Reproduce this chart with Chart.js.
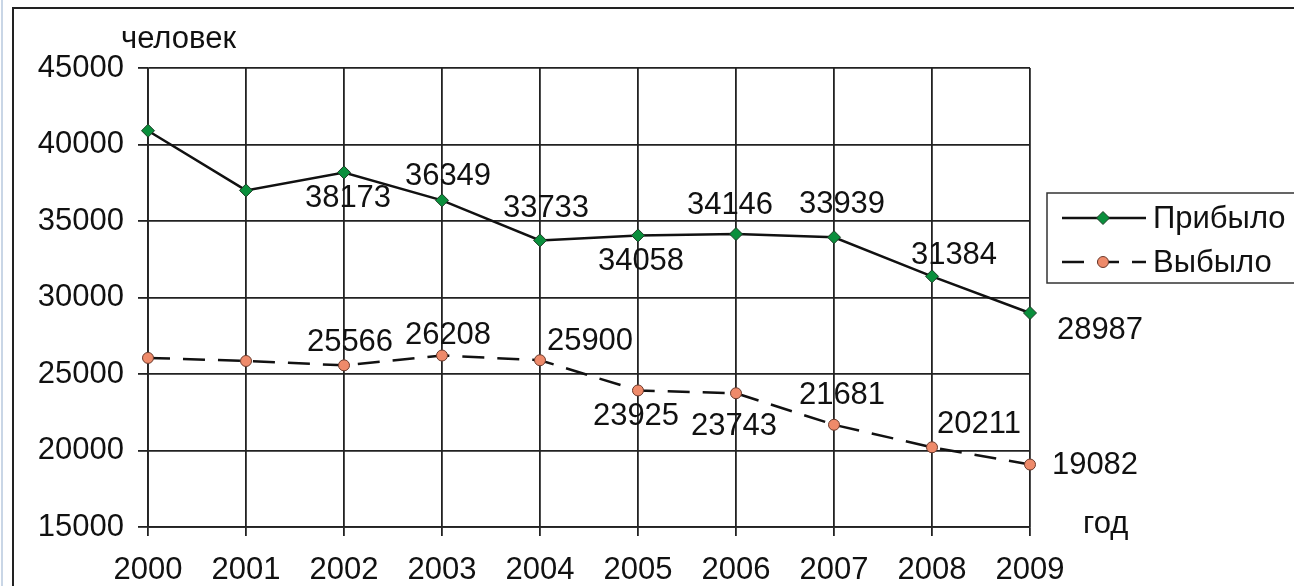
<!DOCTYPE html>
<html lang="ru">
<head>
<meta charset="UTF-8">
<title>Прибыло / Выбыло</title>
<script src="https://cdn.jsdelivr.net/npm/chart.js"></script>
<style>
  * { margin: 0; padding: 0; box-sizing: border-box; }
  body { width: 1294px; height: 586px; background: #fff; overflow: hidden; position: relative; }
  .edge { position: absolute; left: 1px; top: 0; width: 2px; height: 586px; background: #c9d6e6; }
  .frame { position: absolute; left: 12px; top: 7px; width: 1300px; height: 600px; border: 2px solid #222; }
  #wrap { position: absolute; left: 0; top: 0; width: 1294px; height: 586px; }
</style>
</head>
<body>
<div class="edge"></div>
<div class="frame"></div>
<div id="wrap"><canvas id="chart" width="1294" height="586"></canvas></div>
<script>
// data
const years = ['2000', '2001', '2002', '2003', '2004', '2005', '2006', '2007', '2008', '2009'];
const arrived = [40900, 37000, 38173, 36349, 33733, 34058, 34146, 33939, 31384, 28987];
const departed = [26050, 25850, 25566, 26208, 25900, 23925, 23743, 21681, 20211, 19082];
const yTicks = [15000, 20000, 25000, 30000, 35000, 40000, 45000];

// where each value label sits relative to its point (null = no label)
const arrivedLabelShift = [null, null, [4, 26], [6, -24], [6, -32], [3, 26], [-6, -29], [8, -33], [22, -21], [70, 17]];
const departedLabelShift = [null, null, [6, -23], [6, -20], [50, -19], [-2, 26], [-2, 33], [8, -29], [47, -23], [65, 1]];

const FONT = '"Liberation Sans", Arial, sans-serif';
const FS = 31;

const labelsPlugin = {
  id: 'valueLabels',
  afterDatasetsDraw(chart) {
    const ctx = chart.ctx;
    const shifts = [arrivedLabelShift, departedLabelShift];
    ctx.save();
    ctx.font = FS + 'px ' + FONT;
    ctx.fillStyle = '#111';
    ctx.textAlign = 'center';
    ctx.textBaseline = 'middle';
    chart.data.datasets.forEach((ds, i) => {
      chart.getDatasetMeta(i).data.forEach((pt, j) => {
        const s = shifts[i][j];
        if (!s) return;
        ctx.fillText(String(ds.data[j]), pt.x + s[0], pt.y + s[1]);
      });
    });

    // axis captions
    ctx.textAlign = 'left';
    ctx.fillText('человек', 121, 39);
    ctx.fillText('год', 1083, 524);

    // legend box
    ctx.lineWidth = 1.5;
    ctx.strokeStyle = '#333';
    ctx.strokeRect(1047, 193, 260, 90);
    chart.data.datasets.forEach((ds, i) => {
      const y = 218 + i * 44;
      ctx.beginPath();
      ctx.lineWidth = 2.5;
      ctx.strokeStyle = '#111';
      ctx.setLineDash(ds.borderDash || []);
      ctx.moveTo(1062, y);
      ctx.lineTo(1146, y);
      ctx.stroke();
      ctx.setLineDash([]);
      ctx.fillStyle = ds.pointBackgroundColor;
      ctx.strokeStyle = ds.pointBorderColor;
      ctx.lineWidth = 1;
      ctx.beginPath();
      if (ds.pointStyle === 'rectRot') {
        const r = ds.pointRadius;
        ctx.moveTo(1103, y - r); ctx.lineTo(1103 + r, y); ctx.lineTo(1103, y + r); ctx.lineTo(1103 - r, y); ctx.closePath();
      } else {
        ctx.arc(1103, y, ds.pointRadius, 0, Math.PI * 2);
      }
      ctx.fill();
      ctx.stroke();
      ctx.fillStyle = '#111';
      ctx.fillText(ds.label, 1153, y + 1);
    });
    ctx.restore();
  }
};

new Chart(document.getElementById('chart'), {
  type: 'line',
  data: {
    labels: years,
    datasets: [
      {
        label: 'Прибыло',
        data: arrived,
        borderColor: '#111',
        borderWidth: 2.5,
        pointStyle: 'rectRot',
        pointRadius: 6.5,
        pointBackgroundColor: '#0a8f3c',
        pointBorderColor: '#1d3b25',
        pointBorderWidth: 1,
        tension: 0
      },
      {
        label: 'Выбыло',
        data: departed,
        borderColor: '#111',
        borderWidth: 2.5,
        borderDash: [22, 13],
        pointStyle: 'circle',
        pointRadius: 5.5,
        pointBackgroundColor: '#ee8a6a',
        pointBorderColor: '#6b3a2c',
        pointBorderWidth: 1,
        tension: 0
      }
    ]
  },
  options: {
    responsive: false,
    animation: false,
    devicePixelRatio: 1,
    layout: { padding: { left: 0, top: 68, right: 264, bottom: 0 } },
    plugins: { legend: { display: false }, tooltip: { enabled: false } },
    scales: {
      x: {
        offset: false,
        grid: { color: '#222', lineWidth: 1.8, tickLength: 9, drawTicks: true },
        border: { color: '#222', width: 1.8 },
        ticks: { font: { family: FONT, size: FS }, color: '#111', padding: 16, maxRotation: 0, autoSkip: false },
        afterFit(scale) { scale.height = 59; }
      },
      y: {
        min: 15000,
        max: 45000,
        afterBuildTicks(scale) { scale.ticks = yTicks.map(v => ({ value: v })); },
        grid: { color: '#222', lineWidth: 1.8, tickLength: 10 },
        border: { color: '#222', width: 1.8 },
        ticks: { font: { family: FONT, size: FS }, color: '#111', padding: 14, callback: v => String(v) },
        afterFit(scale) { scale.width = 148; }
      }
    }
  },
  plugins: [labelsPlugin]
});
</script>
</body>
</html>
